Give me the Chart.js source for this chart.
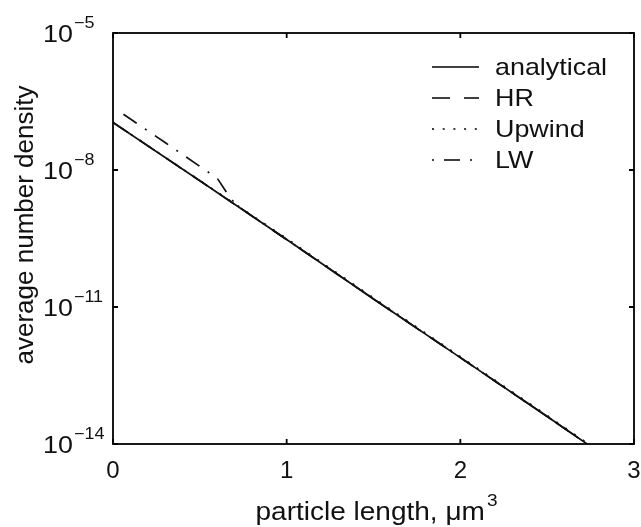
<!DOCTYPE html>
<html>
<head>
<meta charset="utf-8">
<script src="https://cdn.jsdelivr.net/npm/chart.js@4/dist/chart.umd.min.js"></script>
<style>
  html, body { margin: 0; padding: 0; background: #fff; }
  #wrap { width: 641px; height: 527px; }
</style>
</head>
<body>
<div id="wrap"><canvas id="densityChart" width="641" height="527"></canvas></div>
<script>
// values (y axis is logarithmic)
const xAnalytical = [0, 0.5, 1, 1.5, 2, 2.5, 2.73];
const yAnalytical = [1.1e-7, 5.8e-9, 3.0e-10, 1.5e-11, 7.8e-13, 4.0e-14, 1.0e-14];

const xHR = [0, 0.5, 1, 1.5, 2, 2.5, 2.73];
const yHR = [1.1e-7, 5.8e-9, 3.0e-10, 1.5e-11, 7.8e-13, 4.0e-14, 1.0e-14];

const xUpwind = [0, 0.5, 1, 1.5, 2, 2.5, 2.73];
const yUpwind = [1.1e-7, 5.9e-9, 3.15e-10, 1.58e-11, 8.2e-13, 4.2e-14, 1.05e-14];

const xLW = [0.06, 0.3, 0.53, 0.6, 0.68, 0.73, 1, 1.5, 2, 2.5, 2.73];
const yLW = [1.66e-7, 4.0e-8, 1.0e-8, 6.6e-9, 2.3e-9, 1.5e-9, 3.0e-10, 1.5e-11, 7.8e-13, 4.0e-14, 1.0e-14];

const seriesNames = ['analytical', 'HR', 'Upwind', 'LW'];
const xTickValues = [0, 1, 2, 3];
const yTickExponents = [-5, -8, -11, -14];
const xTitle = 'particle length, \u03bcm';
const xTitleSup = '3';
const yTitle = 'average number density';

const FONT = '"Liberation Sans", Arial, Helvetica, sans-serif';
const SX = 1.12; // the scanned figure is a little wider than tall

function pts(xs, ys) {
    return xs.map((v, i) => ({ x: v, y: ys[i] }));
}

function wideText(ctx, text, x, y, align) {
    ctx.save();
    ctx.translate(x, y);
    ctx.scale(SX, 1);
    ctx.textAlign = align || 'left';
    ctx.fillText(text, 0, 0);
    ctx.restore();
}

const dashes = {
    analytical: [],
    HR: [18, 14],
    Upwind: [2, 8.7],
    LW: [16, 10, 2, 10]
};
// legend samples start with a dot for LW, like the original
const legendDashOffset = [0, 0, 0, 26];

// box, inward ticks, y labels with exponents, titles and legend (MATLAB look)
const matlabAxes = {
    id: 'matlabAxes',
    afterDraw(chart) {
        const ctx = chart.ctx;
        const a = chart.chartArea;
        const xs = chart.scales.x;
        const ys = chart.scales.y;
        ctx.save();
        ctx.strokeStyle = '#000';
        ctx.fillStyle = '#111';
        ctx.lineWidth = 1.8;
        ctx.setLineDash([]);
        ctx.strokeRect(a.left, a.top, a.right - a.left, a.bottom - a.top);

        ctx.beginPath();
        xTickValues.forEach(v => {
            const px = xs.getPixelForValue(v);
            ctx.moveTo(px, a.bottom); ctx.lineTo(px, a.bottom - 5);
            ctx.moveTo(px, a.top); ctx.lineTo(px, a.top + 5);
        });
        yTickExponents.forEach(e => {
            const py = ys.getPixelForValue(Math.pow(10, e));
            ctx.moveTo(a.left, py); ctx.lineTo(a.left + 5, py);
            ctx.moveTo(a.right, py); ctx.lineTo(a.right - 5, py);
        });
        ctx.stroke();

        // y tick labels: 10 with superscript exponent
        ctx.textBaseline = 'alphabetic';
        yTickExponents.forEach(e => {
            const py = ys.getPixelForValue(Math.pow(10, e));
            ctx.font = '24px ' + FONT;
            wideText(ctx, '10', 73, py + 9, 'right');
            ctx.font = '16px ' + FONT;
            wideText(ctx, '\u2212' + Math.abs(e), 74, py - 5, 'left');
        });

        // x title with superscript
        ctx.font = '25px ' + FONT;
        const wMain = ctx.measureText(xTitle).width * SX;
        ctx.font = '17px ' + FONT;
        const wSup = ctx.measureText(xTitleSup).width * SX;
        const cx = (a.left + a.right) / 2 + 3;
        const x0 = cx - (wMain + wSup + 2) / 2;
        ctx.font = '25px ' + FONT;
        wideText(ctx, xTitle, x0, 520, 'left');
        ctx.font = '17px ' + FONT;
        wideText(ctx, xTitleSup, x0 + wMain + 2, 506, 'left');

        // y title
        ctx.save();
        ctx.translate(33, 225);
        ctx.rotate(-Math.PI / 2);
        ctx.font = '26px ' + FONT;
        ctx.textAlign = 'center';
        ctx.fillText(yTitle, 0, 0);
        ctx.restore();

        // legend, no frame
        const rowY = [67, 98, 129, 160];
        chart.data.datasets.forEach((ds, i) => {
            const y = rowY[i];
            ctx.save();
            ctx.lineWidth = 1.6;
            ctx.lineCap = 'butt';
            ctx.setLineDash(ds.borderDash || []);
            ctx.lineDashOffset = legendDashOffset[i];
            ctx.beginPath();
            ctx.moveTo(432, y);
            ctx.lineTo(479, y);
            ctx.stroke();
            ctx.restore();
            ctx.font = '24px ' + FONT;
            ctx.textBaseline = 'middle';
            wideText(ctx, ds.label, 495, y + 1, 'left');
        });
        ctx.restore();
    }
};

const datasets = [
    { label: seriesNames[0], data: pts(xAnalytical, yAnalytical), borderDash: dashes.analytical, order: 1 },
    { label: seriesNames[1], data: pts(xHR, yHR), borderDash: dashes.HR, order: 3 },
    { label: seriesNames[2], data: pts(xUpwind, yUpwind), borderDash: dashes.Upwind, order: 2 },
    { label: seriesNames[3], data: pts(xLW, yLW), borderDash: dashes.LW, order: 4 }
].map(d => Object.assign(d, {
    borderColor: '#111',
    backgroundColor: '#111',
    borderWidth: 1.7,
    pointRadius: 0,
    tension: 0,
    fill: false,
    borderCapStyle: 'butt'
}));

new Chart(document.getElementById('densityChart'), {
    type: 'line',
    data: { datasets: datasets },
    plugins: [matlabAxes],
    options: {
        responsive: false,
        animation: false,
        layout: { padding: { top: 33, right: 7, left: 0, bottom: 0 } },
        plugins: {
            legend: { display: false },
            tooltip: { enabled: false }
        },
        scales: {
            x: {
                type: 'linear',
                min: 0,
                max: 3,
                afterFit: s => {
                    s.height = 83;
                    s.paddingLeft = 0;
                    s.paddingRight = 0;
                },
                afterBuildTicks: s => { s.ticks = xTickValues.map(v => ({ value: v })); },
                grid: { display: false },
                border: { display: false },
                ticks: {
                    color: '#111',
                    padding: 5,
                    maxRotation: 0,
                    font: { family: FONT, size: 24 }
                }
            },
            y: {
                type: 'logarithmic',
                min: 1e-14,
                max: 1e-5,
                afterFit: s => { s.width = 113; },
                grid: { display: false },
                border: { display: false },
                ticks: { display: false }
            }
        }
    }
});
</script>
</body>
</html>
